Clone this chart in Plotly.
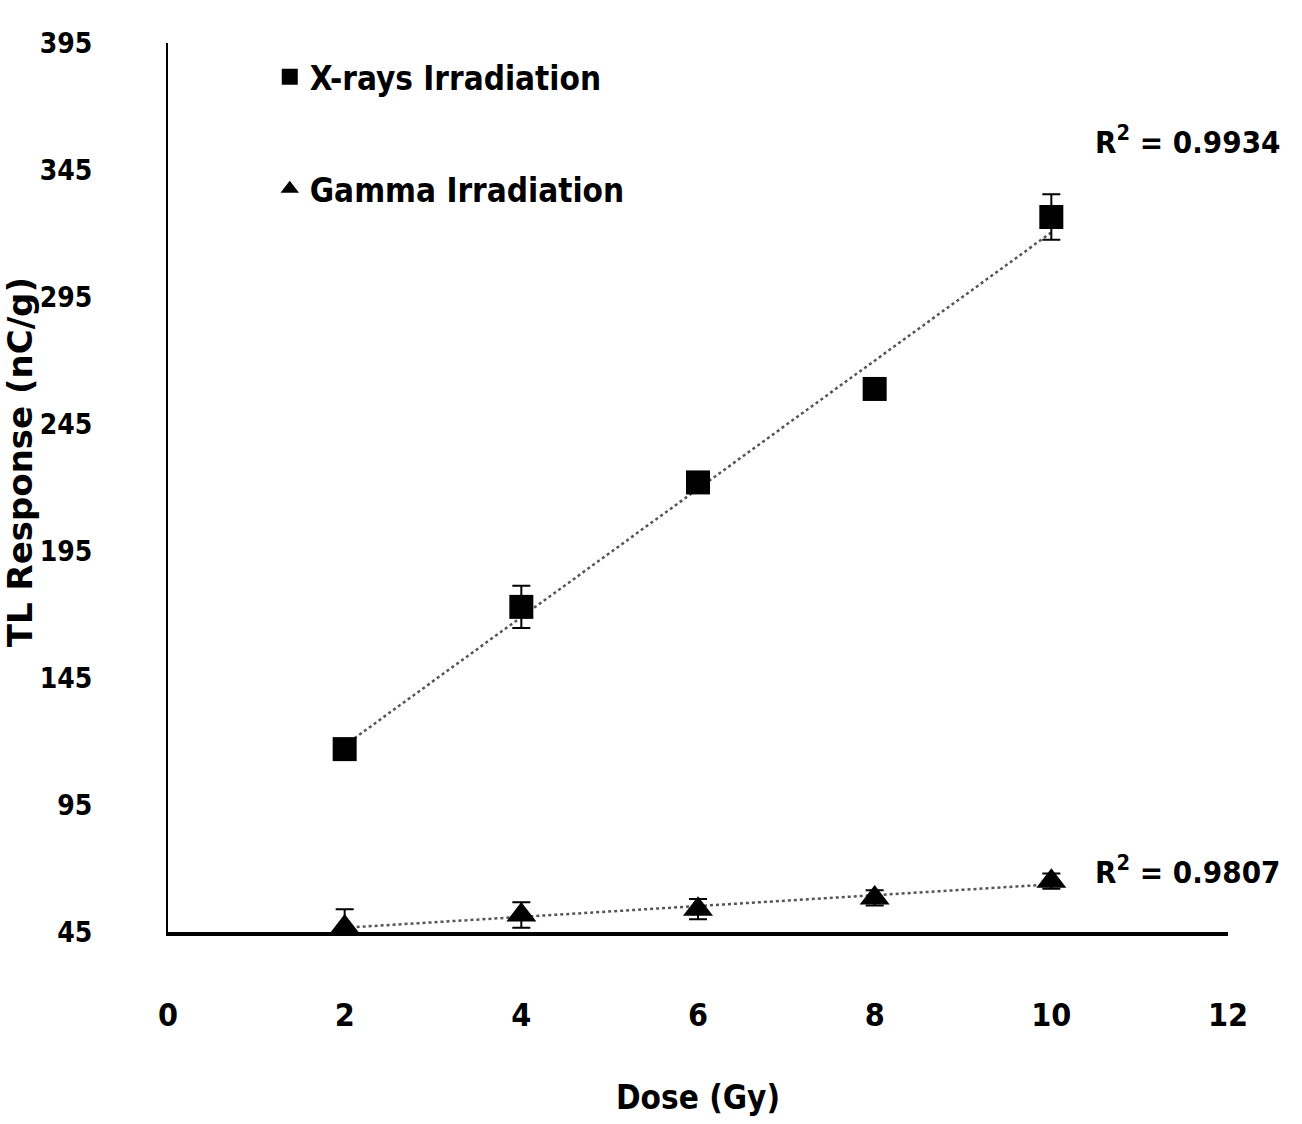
import numpy as np
import plotly.graph_objects as go

dose = [2, 4, 6, 8, 10]
xray_tl = [117, 173, 222, 258.8, 326.5]
xray_err = [2, 8.3, 3, 3, 9]
gamma_tl = [47, 51.7, 54, 58.4, 65]
gamma_err = [7, 5, 4, 3, 3]
r2_xray = "0.9934"
r2_gamma = "0.9807"
xticks = [0, 2, 4, 6, 8, 10, 12]
yticks = [45, 95, 145, 195, 245, 295, 345, 395]

NARROW = "DejaVu Sans Condensed, Liberation Sans Narrow, sans-serif"

fig = go.Figure()

# trendlines (linear least squares through the data)
for ys in (xray_tl, gamma_tl):
    k, b = np.polyfit(dose, ys, 1)
    xs = [dose[0], dose[-1]]
    fig.add_trace(go.Scatter(
        x=xs, y=[k * v + b for v in xs], mode="lines",
        line=dict(color="#555555", width=2.5, dash="dot"),
        showlegend=False, hoverinfo="skip"))

fig.add_trace(go.Scatter(
    x=dose, y=xray_tl, mode="markers", name="X-rays Irradiation",
    legendgroup="a",
    marker=dict(symbol="square", size=24, color="black"),
    error_y=dict(type="data", array=xray_err, color="black", thickness=2, width=9),
    cliponaxis=False))

fig.add_trace(go.Scatter(
    x=dose, y=gamma_tl, mode="markers", name="Gamma Irradiation",
    legendgroup="b",
    marker=dict(symbol="triangle-up", size=26, color="black"),
    error_y=dict(type="data", array=gamma_err, color="black", thickness=2, width=9),
    cliponaxis=False))

fig.add_annotation(x=1.051, xref="paper", y=356.8, yref="y", xanchor="right",
                   yanchor="middle", showarrow=False,
                   text=f"<b>R<sup>2</sup> = {r2_xray}</b>",
                   font=dict(family=NARROW, size=31, color="black"))
fig.add_annotation(x=1.051, xref="paper", y=69.4, yref="y", xanchor="right",
                   yanchor="middle", showarrow=False,
                   text=f"<b>R<sup>2</sup> = {r2_gamma}</b>",
                   font=dict(family=NARROW, size=31, color="black"))

# y-axis title
fig.add_annotation(x=-0.1395, xref="paper", y=230, yref="y", xanchor="center",
                   yanchor="middle", showarrow=False, textangle=-90,
                   text="<b>TL Response (nC/g)</b>",
                   font=dict(family="DejaVu Sans, sans-serif", size=34,
                             color="black"))

fig.update_layout(
    width=1302, height=1124,
    margin=dict(l=168, r=74, t=43, b=192, autoexpand=False),
    paper_bgcolor="white", plot_bgcolor="white",
    showlegend=True,
    legend=dict(x=0.096, y=0.9935, xanchor="left", yanchor="top",
                font=dict(family=NARROW, size=33, color="black", weight="bold"),
                tracegroupgap=66, traceorder="grouped",
                bgcolor="rgba(0,0,0,0)", itemsizing="trace"),
    xaxis=dict(range=[0, 12], tickvals=xticks, ticks="", showgrid=False,
               zeroline=False, showline=True, linecolor="black", linewidth=4,
               automargin=False, ticklabelstandoff=52,
               tickfont=dict(family=NARROW, size=32, color="black", weight="bold"),
               title=dict(text="<b>Dose (Gy)</b>", standoff=53,
                          font=dict(family=NARROW, size=33, color="black"))),
    yaxis=dict(range=[45, 395], tickvals=yticks, ticks="", showgrid=False,
               zeroline=False, showline=True, linecolor="black", linewidth=2,
               automargin=False, ticklabelstandoff=68,
               tickfont=dict(family=NARROW, size=28, color="black", weight="bold")),
)

fig.write_html("out.html")
